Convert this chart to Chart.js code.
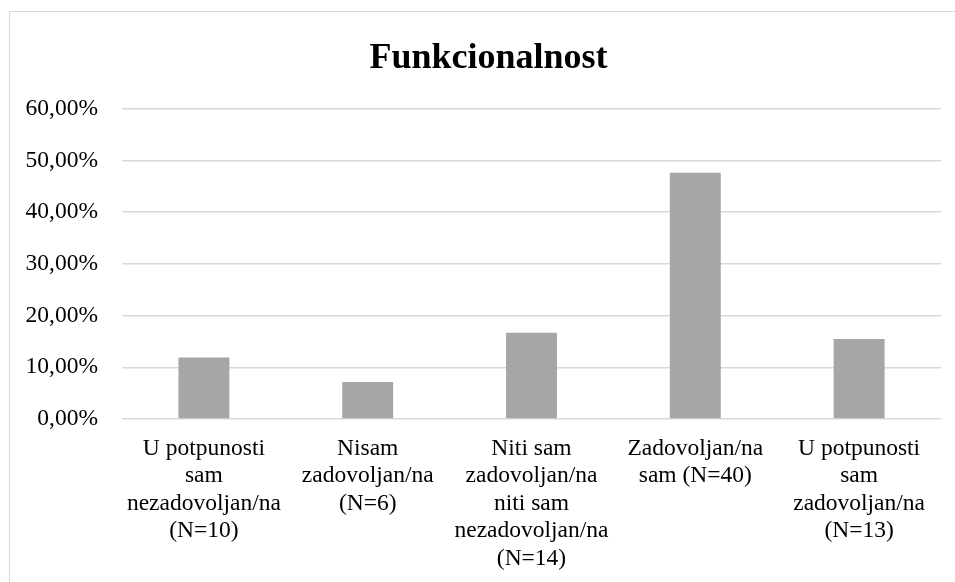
<!DOCTYPE html>
<html>
<head>
<meta charset="utf-8">
<script src="https://cdn.jsdelivr.net/npm/chart.js@4"></script>
<style>
  html, body { margin: 0; padding: 0; background: #fff; }
  #frame {
    position: absolute; left: 9px; top: 11px; width: 1000px; height: 640px;
    border: 1.5px solid #d9d9d9; box-sizing: border-box;
  }
  #wrap { position: absolute; left: 0; top: 0; width: 955px; height: 582px; }
</style>
</head>
<body>
<div id="frame"></div>
<div id="wrap"><canvas id="chart" width="955" height="582"></canvas></div>
<script>
const categories = [
    ['U potpunosti', 'sam', 'nezadovoljan/na', '(N=10)'],
    ['Nisam', 'zadovoljan/na', '(N=6)'],
    ['Niti sam', 'zadovoljan/na', 'niti sam', 'nezadovoljan/na', '(N=14)'],
    ['Zadovoljan/na', 'sam (N=40)'],
    ['U potpunosti', 'sam', 'zadovoljan/na', '(N=13)']
];
const shares = [11.90, 7.14, 16.67, 47.62, 15.48];
const yTicks = [0, 10, 20, 30, 40, 50, 60];

const serif = "'Liberation Serif', 'Times New Roman', serif";

// title sits centred on the outer frame, not on the canvas
const shiftTitle = {
    id: 'shiftTitle',
    afterLayout(chart) {
        if (chart.titleBlock) chart.titleBlock.left += 36;
    }
};

document.addEventListener('DOMContentLoaded', () => {
    const ctx = document.getElementById('chart').getContext('2d');

    new Chart(ctx, {
        type: 'bar',
        data: {
            labels: categories,
            datasets: [{
                data: shares,
                backgroundColor: '#a6a6a6',
                borderWidth: 0,
                categoryPercentage: 1,
                barPercentage: 0.311
            }]
        },
        plugins: [shiftTitle],
        options: {
            responsive: false,
            animation: false,
            layout: { padding: { left: 0, right: 14, top: 0, bottom: 0 } },
            plugins: {
                legend: { display: false },
                tooltip: { enabled: false },
                title: {
                    display: true,
                    text: 'Funkcionalnost',
                    color: '#000',
                    font: { family: serif, size: 36, weight: 'bold', lineHeight: 1.2 },
                    padding: { top: 37, bottom: 28.5 }
                }
            },
            scales: {
                x: {
                    grid: { display: false, drawTicks: false },
                    border: { display: false },
                    ticks: {
                        color: '#000',
                        font: { family: serif, size: 23.5, lineHeight: 1.17 },
                        padding: 16,
                        maxRotation: 0,
                        autoSkip: false
                    },
                    afterFit: s => { s.height = 163; }
                },
                y: {
                    min: 0,
                    max: 60,
                    afterBuildTicks: s => { s.ticks = yTicks.map(v => ({ value: v })); },
                    grid: { color: '#d9d9d9', lineWidth: 1.5, drawTicks: false },
                    border: { display: false },
                    ticks: {
                        color: '#000',
                        font: { family: serif, size: 23.5 },
                        padding: 24,
                        callback: v => v.toFixed(2).replace('.', ',') + '%'
                    },
                    afterFit: s => { s.width = 122; }
                }
            }
        }
    });
});
</script>
</body>
</html>
